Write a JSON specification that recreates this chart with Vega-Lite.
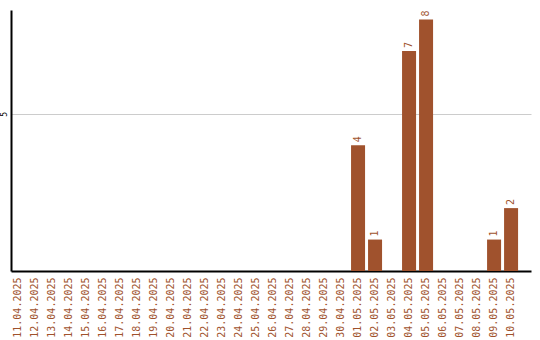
{
  "$schema": "https://vega.github.io/schema/vega-lite/v6.json",
  "width": 520,
  "height": 261,
  "autosize": {"type": "none"},
  "padding": {"left": 11, "top": 10, "right": 9, "bottom": 69},
  "background": "white",
  "config": {
    "view": {"stroke": null},
    "font": "DejaVu Sans Mono"
  },
  "data": {
    "values": [
      {"date": "11.04.2025", "count": 0},
      {"date": "12.04.2025", "count": 0},
      {"date": "13.04.2025", "count": 0},
      {"date": "14.04.2025", "count": 0},
      {"date": "15.04.2025", "count": 0},
      {"date": "16.04.2025", "count": 0},
      {"date": "17.04.2025", "count": 0},
      {"date": "18.04.2025", "count": 0},
      {"date": "19.04.2025", "count": 0},
      {"date": "20.04.2025", "count": 0},
      {"date": "21.04.2025", "count": 0},
      {"date": "22.04.2025", "count": 0},
      {"date": "23.04.2025", "count": 0},
      {"date": "24.04.2025", "count": 0},
      {"date": "25.04.2025", "count": 0},
      {"date": "26.04.2025", "count": 0},
      {"date": "27.04.2025", "count": 0},
      {"date": "28.04.2025", "count": 0},
      {"date": "29.04.2025", "count": 0},
      {"date": "30.04.2025", "count": 0},
      {"date": "01.05.2025", "count": 4},
      {"date": "02.05.2025", "count": 1},
      {"date": "03.05.2025", "count": 0},
      {"date": "04.05.2025", "count": 7},
      {"date": "05.05.2025", "count": 8},
      {"date": "06.05.2025", "count": 0},
      {"date": "07.05.2025", "count": 0},
      {"date": "08.05.2025", "count": 0},
      {"date": "09.05.2025", "count": 1},
      {"date": "10.05.2025", "count": 2}
    ]
  },
  "encoding": {
    "x": {
      "field": "date",
      "type": "ordinal",
      "sort": null,
      "title": null,
      "scale": {"paddingInner": 0.176, "paddingOuter": 0.38, "align": 0},
      "axis": {
        "labelAngle": -90,
        "labelColor": "#A0522D",
        "labelFontSize": 10,
        "labelPadding": 6,
        "ticks": false,
        "domainColor": "#000000",
        "domainWidth": 2,
        "grid": false
      }
    },
    "y": {
      "field": "count",
      "type": "quantitative",
      "title": null,
      "scale": {"domain": [0, 8.3], "nice": false},
      "axis": {
        "values": [5],
        "grid": true,
        "gridColor": "#cccccc",
        "gridWidth": 1,
        "ticks": false,
        "labelAngle": -90,
        "labelAlign": "center",
        "labelBaseline": "bottom",
        "labelFontSize": 8,
        "labelColor": "#000000",
        "labelPadding": 3,
        "domainColor": "#000000",
        "domainWidth": 2
      }
    }
  },
  "layer": [
    {
      "mark": {"type": "bar", "color": "#A0522D"}
    },
    {
      "transform": [{"filter": "datum.count > 0"}],
      "mark": {
        "type": "text",
        "angle": -90,
        "align": "left",
        "baseline": "middle",
        "dx": 3,
        "fontSize": 10,
        "color": "#A0522D"
      },
      "encoding": {"text": {"field": "count", "type": "quantitative"}}
    }
  ]
}
